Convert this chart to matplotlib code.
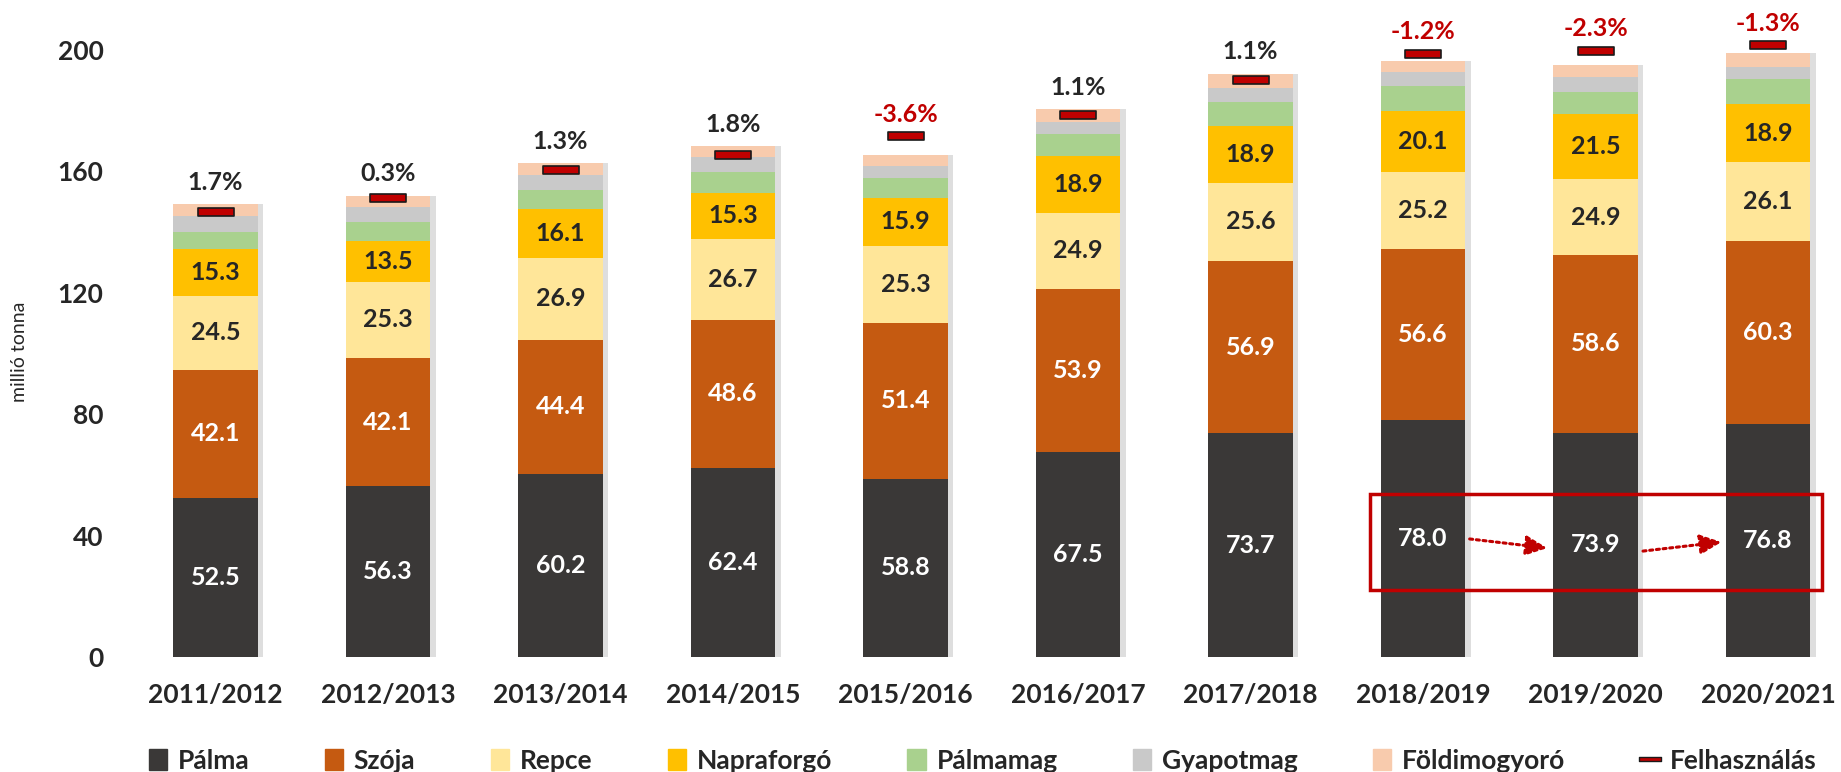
import matplotlib
matplotlib.use("Agg")
import matplotlib.pyplot as plt
import matplotlib.patheffects as pe
from matplotlib.path import Path
from matplotlib.lines import Line2D
from matplotlib.patches import Rectangle
import numpy as np

plt.rcParams["font.family"] = ["Lato", "DejaVu Sans"]

years = ["2011/2012", "2012/2013", "2013/2014", "2014/2015", "2015/2016",
         "2016/2017", "2017/2018", "2018/2019", "2019/2020", "2020/2021"]
palma = [52.5, 56.3, 60.2, 62.4, 58.8, 67.5, 73.7, 78.0, 73.9, 76.8]
szoja = [42.1, 42.1, 44.4, 48.6, 51.4, 53.9, 56.9, 56.6, 58.6, 60.3]
repce = [24.5, 25.3, 26.9, 26.7, 25.3, 24.9, 25.6, 25.2, 24.9, 26.1]
napraforgo = [15.3, 13.5, 16.1, 15.3, 15.9, 18.9, 18.9, 20.1, 21.5, 18.9]
palmamag = [5.6, 6.2, 6.2, 6.7, 6.3, 7.1, 7.9, 8.2, 7.3, 8.4]
gyapotmag = [5.2, 4.9, 5.0, 4.9, 4.1, 4.0, 4.6, 4.6, 5.0, 4.0]
foldimogyoro = [4.0, 3.6, 3.9, 3.7, 3.6, 4.2, 4.5, 3.7, 4.0, 4.5]
felhasznalas = [146.8, 151.4, 160.6, 165.3, 171.6, 178.5, 190.0, 198.8, 199.8, 201.6]
valtozas = [1.7, 0.3, 1.3, 1.8, -3.6, 1.1, 1.1, -1.2, -2.3, -1.3]

series = [
    ("Pálma", palma, "#3A3837", "white"),
    ("Szója", szoja, "#C55A11", "white"),
    ("Repce", repce, "#FFE699", "#262626"),
    ("Napraforgó", napraforgo, "#FFC000", "#262626"),
    ("Pálmamag", palmamag, "#A9D18E", None),
    ("Gyapotmag", gyapotmag, "#C9C9C9", None),
    ("Földimogyoró", foldimogyoro, "#F8CBAD", None),
]

RED = "#C00000"
DARK = "#262626"

W, H = 1841, 772
fig = plt.figure(figsize=(W / 100, H / 100), dpi=100)
ax = fig.add_axes([130 / W, (H - 657) / H, 1705 / W, 0.8255])

x = np.arange(len(years))
bottom = np.zeros(len(years))
shadow = [pe.SimplePatchShadow(offset=(4, 0), shadow_rgbFace="#7f7f7f", alpha=0.25), pe.Normal()]
handles = []
for name, vals, color, tcolor in series:
    vals = np.array(vals)
    bars = ax.bar(x, vals, 0.49, bottom=bottom, color=color, linewidth=0, zorder=2)
    for b in bars:
        b.set_path_effects(shadow)
    if tcolor is not None:
        for xi, v, b0 in zip(x, vals, bottom):
            ax.text(xi, b0 + v / 2, f"{v:.1f}", ha="center", va="center",
                    fontsize=18, fontweight="bold", color=tcolor, zorder=4)
    handles.append(Rectangle((0, 0), 1, 1, color=color))
    bottom = bottom + vals

totals = bottom
rect_marker = Path([(-2.5, -0.5), (2.5, -0.5), (2.5, 0.5), (-2.5, 0.5), (-2.5, -0.5)],
                   [Path.MOVETO, Path.LINETO, Path.LINETO, Path.LINETO, Path.CLOSEPOLY])
ax.plot(x, felhasznalas, linestyle="none", marker=rect_marker, markersize=26,
        markerfacecolor=RED, markeredgecolor="#1a1a1a", markeredgewidth=1.2, zorder=5)

for xi, p, t, u in zip(x, valtozas, totals, felhasznalas):
    ax.text(xi, max(t, u) + 7.3, f"{p:.1f}%", ha="center", va="center",
            fontsize=18, fontweight="bold", color=RED if p < 0 else DARK, zorder=5)

# highlight box around the last three palm values
ax.add_patch(Rectangle((7 - 0.31, 22.1), 2.62, 31.6, fill=False,
                       edgecolor=RED, linewidth=2.5, zorder=6))
for (x0, y0), (x1, y1) in [((7.27, 38.9), (7.72, 35.9)), ((8.275, 34.9), (8.73, 37.9))]:
    ax.annotate("", xy=(x1, y1), xytext=(x0, y0),
                arrowprops=dict(arrowstyle="-|>,head_length=1.3,head_width=0.6",
                                color=RED, lw=2.2, linestyle=(0, (1, 1.2)),
                                shrinkA=0, shrinkB=0), zorder=6)

ax.set_xlim(-0.496, 9.388)
ax.set_ylim(0, 210)
ax.set_yticks(range(0, 201, 40))
ax.set_xticks(x)
ax.set_xticklabels(years)
ax.tick_params(axis="both", length=0, labelsize=19, labelcolor=DARK)
ax.tick_params(axis="x", pad=19)
ax.tick_params(axis="y", pad=19)
for lab in ax.get_xticklabels() + ax.get_yticklabels():
    lab.set_fontweight("bold")
for s in ax.spines.values():
    s.set_visible(False)

fig.text(20 / W, 1 - 352 / H, "millió tonna", rotation=90, ha="center", va="center",
         fontsize=14, color=DARK)

handles.append(Line2D([], [], linestyle="none", marker=rect_marker, markersize=16,
                      markerfacecolor=RED, markeredgecolor="#1a1a1a", markeredgewidth=1))
labels = [s[0] for s in series] + ["Felhasználás"]
leg = fig.legend(handles, labels, loc="center", ncol=8, mode="expand",
                 bbox_to_anchor=(125 / W, 1 - 780 / H, 1715 / W, 0.05),
                 frameon=False, handlelength=0.7, handleheight=0.8, handletextpad=0.4,
                 prop={"size": 19, "weight": "bold"})
for t in leg.get_texts():
    t.set_color(DARK)

fig.savefig("out.png", dpi=100)
